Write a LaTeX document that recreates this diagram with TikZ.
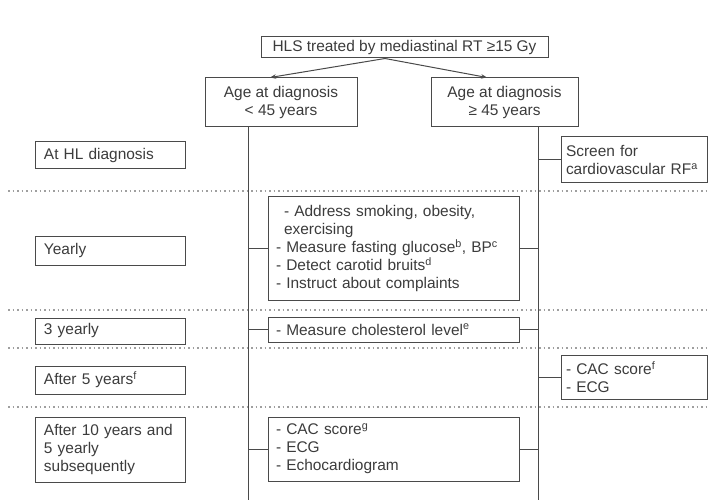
\documentclass[tikz,border=0pt]{standalone}
\usepackage{fontspec}
\setmainfont{Liberation Sans}
\usetikzlibrary{arrows.meta}
\definecolor{txt}{HTML}{3C3C3C}
\definecolor{ln}{HTML}{4A4A4A}
\begin{document}
\begin{tikzpicture}[x=1bp,y=-1bp,
  every node/.style={font=\fontsize{15.5}{18}\selectfont, text=txt},
  box/.style={draw=ln, line width=1bp, inner xsep=8bp, inner ysep=0pt, align=left},
  rbox/.style={box, inner xsep=5bp},
  cbox/.style={draw=ln, line width=1bp, inner sep=0pt, align=center},
  link/.style={draw=ln, line width=1bp},
  arr/.style={link, -{Stealth[length=6bp,width=4.5bp]}},
  dots/.style={draw=gray!75, line width=1.4bp, dash pattern=on 1.5bp off 3bp}]
\fill[white] (0,0) rectangle (708,500);
\useasboundingbox (0,0) rectangle (708,500);

% header boxes
\node[cbox, minimum width=287bp, minimum height=21bp] (top) at (404.5,47.5) {HLS treated by mediastinal RT ≥15 Gy};
\node[cbox, minimum width=152bp, minimum height=49bp] (ageL) at (281,102.5) {Age at diagnosis\\< 45 years};
\node[cbox, minimum width=147bp, minimum height=49bp] (ageR) at (504.5,102.5) {Age at diagnosis\\≥ 45 years};
\draw[arr] ([xshift=-19.5bp]top.south) -- ([xshift=-11bp]ageL.north);
\draw[arr] ([xshift=-19.5bp]top.south) -- ([xshift=-17.5bp]ageR.north);

% dotted separators
\coordinate (d1a) at (8,191);   \coordinate (d1b) at (708,191);
\coordinate (d2a) at (8,310);   \coordinate (d2b) at (708,310);
\coordinate (d3a) at (8,348);   \coordinate (d3b) at (708,348);
\coordinate (d4a) at (8,407);   \coordinate (d4b) at (708,407);
\draw[dots] (d1a) -- (d1b);
\draw[dots] (d2a) -- (d2b);
\draw[dots] (d3a) -- (d3b);
\draw[dots] (d4a) -- (d4b);

% vertical trunks
\coordinate (Lbot) at (248,500);
\coordinate (Rbot) at (538,500);
\draw[link] (ageL.south -| Lbot) -- (Lbot);
\draw[link] (ageR.south -| Rbot) -- (Rbot);

% left column
\node[box, text width=133bp, minimum height=27bp] (hl) at (110.5,155.5) {At HL diagnosis};
\node[box, text width=133bp, minimum height=28bp] (yr) at (110.5,251) {Yearly};
\node[box, text width=133bp, minimum height=26bp] (y3) at (110.5,331) {3 yearly};
\node[box, text width=133bp, minimum height=28bp] (a5) at (110.5,380) {After 5 years\textsuperscript{f}};
\node[box, text width=133bp, minimum height=65bp] (a10) at (110.5,449.5) {After 10 years and\\5 yearly\\subsequently};

% middle column
\node[box, text width=235bp, minimum height=103bp] (yc) at (393.5,248.5) {\hspace*{8bp}- Address smoking, obesity,\\\hspace*{8bp}exercising\\- Measure fasting glucose\textsuperscript{b}, BP\textsuperscript{c}\\- Detect carotid bruits\textsuperscript{d}\\- Instruct about complaints};
\node[box, text width=235bp, minimum height=25bp] (cc) at (393.5,329.5) {- Measure cholesterol level\textsuperscript{e}};
\node[box, text width=235bp, minimum height=64bp] (tc) at (393.5,449) {- CAC score\textsuperscript{g}\\- ECG\\- Echocardiogram};

% right column
\node[rbox, text width=136bp, minimum height=46bp] (scr) at (634,160) {Screen for\\cardiovascular RF\textsuperscript{a}};
\node[rbox, text width=136bp, minimum height=44bp] (r5) at (634,377) {- CAC score\textsuperscript{f}\\- ECG};

% branches
\draw[link] (yc.west) -- (yc.west -| Lbot);
\draw[link] (yc.east) -- (yc.east -| Rbot);
\draw[link] (cc.west) -- (cc.west -| Lbot);
\draw[link] (cc.east) -- (cc.east -| Rbot);
\draw[link] (tc.west) -- (tc.west -| Lbot);
\draw[link] (tc.east) -- (tc.east -| Rbot);
\draw[link] (scr.west) -- (scr.west -| Rbot);
\draw[link] (r5.west) -- (r5.west -| Rbot);
\end{tikzpicture}
\end{document}
